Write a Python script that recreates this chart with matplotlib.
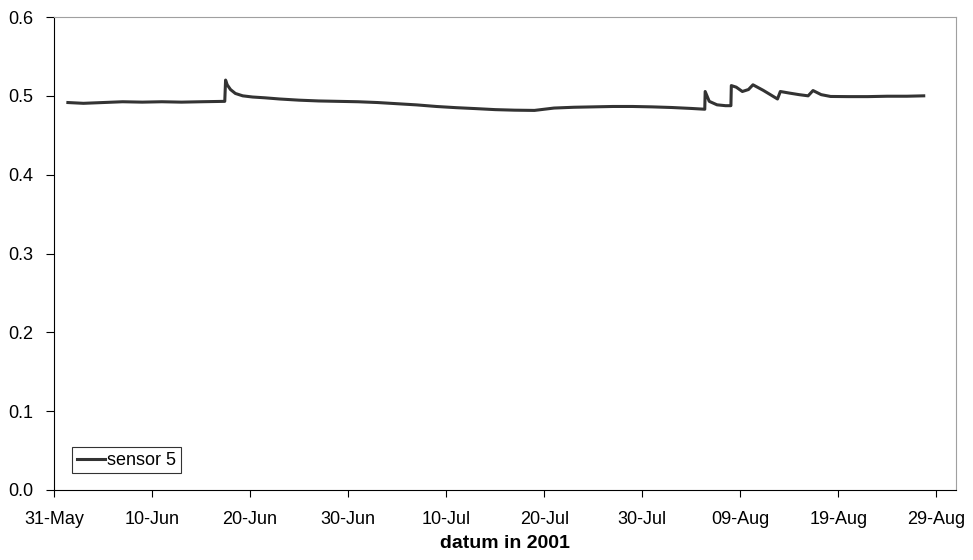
import pandas as pd
import matplotlib
matplotlib.use("Agg")
import matplotlib.pyplot as plt
import matplotlib.dates as mdates

plt.rcParams["font.family"] = ["Liberation Sans", "DejaVu Sans"]

# sensor 5 readings
times = [
    "2001-06-01 10:00", "2001-06-03 00:00", "2001-06-05 00:00", "2001-06-07 00:00",
    "2001-06-09 00:00", "2001-06-11 00:00", "2001-06-13 00:00", "2001-06-15 00:00",
    "2001-06-17 10:00", "2001-06-17 12:00", "2001-06-17 16:00", "2001-06-18 00:00",
    "2001-06-18 12:00", "2001-06-19 06:00", "2001-06-20 06:00", "2001-06-21 12:00",
    "2001-06-23 00:00", "2001-06-25 00:00",
    "2001-06-27 00:00", "2001-06-29 00:00", "2001-07-01 00:00", "2001-07-03 00:00",
    "2001-07-05 00:00", "2001-07-07 00:00", "2001-07-09 00:00", "2001-07-11 00:00",
    "2001-07-13 00:00", "2001-07-15 00:00", "2001-07-17 00:00", "2001-07-19 00:00",
    "2001-07-21 00:00", "2001-07-23 00:00", "2001-07-25 00:00", "2001-07-27 00:00",
    "2001-07-29 00:00", "2001-07-31 00:00", "2001-08-02 00:00", "2001-08-04 00:00",
    "2001-08-05 09:00", "2001-08-05 10:00", "2001-08-05 20:00", "2001-08-06 15:00",
    "2001-08-07 12:00", "2001-08-08 01:00", "2001-08-08 02:00", "2001-08-08 14:00",
    "2001-08-09 05:00", "2001-08-09 20:00", "2001-08-10 07:00", "2001-08-11 08:00",
    "2001-08-12 00:00", "2001-08-12 19:00", "2001-08-13 02:00", "2001-08-14 00:00",
    "2001-08-15 00:00", "2001-08-15 22:00", "2001-08-16 10:00", "2001-08-17 06:00",
    "2001-08-18 05:00", "2001-08-20 00:00", "2001-08-22 00:00", "2001-08-24 00:00",
    "2001-08-26 00:00", "2001-08-27 17:00",
]
sensor5 = [
    0.4915, 0.4905, 0.4915, 0.4925,
    0.4920, 0.4925, 0.4920, 0.4925,
    0.4930, 0.5200, 0.5140, 0.5080,
    0.5030, 0.5000, 0.4985, 0.4975,
    0.4960, 0.4945,
    0.4935, 0.4930, 0.4925, 0.4915,
    0.4900, 0.4885, 0.4865, 0.4850,
    0.4838, 0.4825, 0.4818, 0.4815,
    0.4845, 0.4855, 0.4860, 0.4865,
    0.4865, 0.4860, 0.4852, 0.4840,
    0.4830, 0.5055, 0.4930, 0.4886,
    0.4875, 0.4875, 0.5130, 0.5110,
    0.5055, 0.5080, 0.5140, 0.5070,
    0.5020, 0.4960, 0.5055, 0.5035,
    0.5015, 0.5000, 0.5067, 0.5015,
    0.4992, 0.4990, 0.4990, 0.4995,
    0.4995, 0.5000,
]
tick_dates = pd.date_range("2001-05-31", periods=10, freq="10D")

t = pd.to_datetime(times)

fig = plt.figure(figsize=(9.73, 5.60), dpi=100)
ax = fig.add_axes([54 / 973, 1 - 490 / 560, (956 - 54) / 973, (490 - 17) / 560])

ax.plot(t, sensor5, color="#333333", lw=2.2, label="sensor 5")

ax.set_xlim(pd.Timestamp("2001-05-31"), pd.Timestamp("2001-08-31"))
ax.set_ylim(0, 0.6)
ax.set_yticks([0.0, 0.1, 0.2, 0.3, 0.4, 0.5, 0.6])
ax.yaxis.set_major_formatter(plt.FormatStrFormatter("%.1f"))
ax.set_xticks(tick_dates)
ax.xaxis.set_major_formatter(mdates.DateFormatter("%d-%b"))

ax.spines["top"].set_color("#a0a0a0")
ax.spines["right"].set_color("#a0a0a0")
for s in ["left", "bottom"]:
    ax.spines[s].set_color("black")
ax.tick_params(axis="y", direction="out", length=6, pad=9, labelsize=13)
ax.tick_params(axis="x", direction="out", length=5, pad=10, labelsize=13)

ax.set_xlabel("datum in 2001", fontsize=14, fontweight="bold", labelpad=5)

leg = ax.legend(loc="lower left", bbox_to_anchor=(0.02, 0.035), fontsize=13,
                frameon=True, fancybox=False, handlelength=1.6,
                handletextpad=0.1, borderpad=0.25, borderaxespad=0)
leg.get_frame().set_edgecolor("black")
leg.get_frame().set_linewidth(0.8)

fig.savefig("out.png", dpi=100)
